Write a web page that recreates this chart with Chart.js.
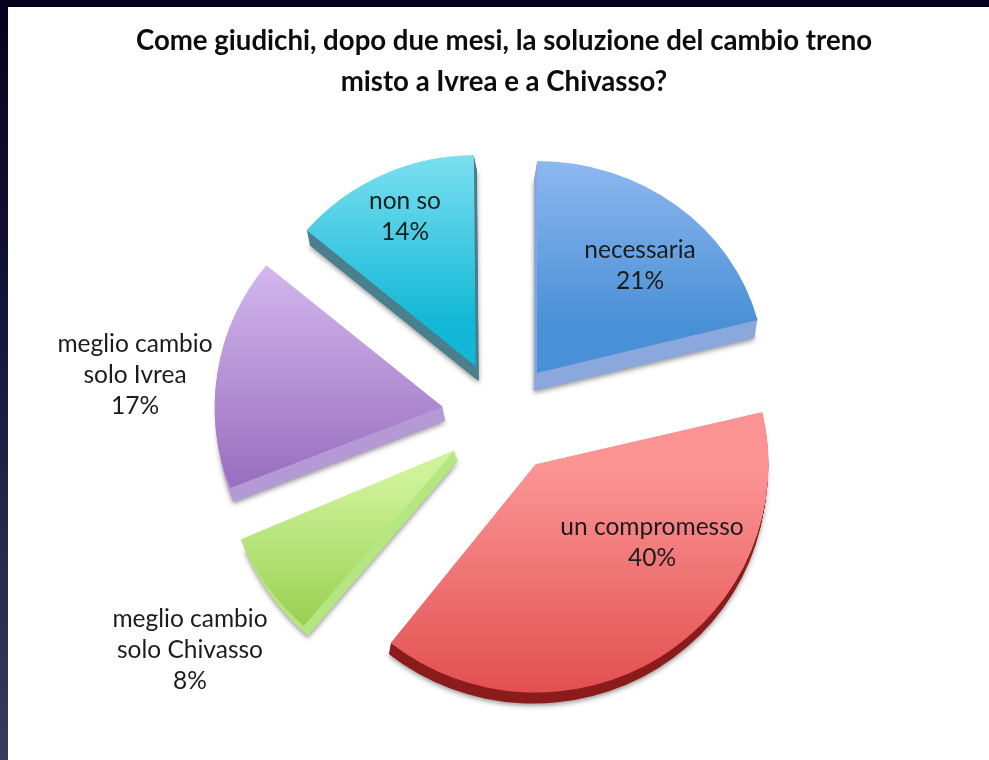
<!DOCTYPE html>
<html>
<head>
<meta charset="utf-8">
<title>Cambio treno misto</title>
<script src="https://cdn.jsdelivr.net/npm/chart.js@4/dist/chart.umd.min.js"></script>
<style>
  html, body { margin: 0; padding: 0; background: #fff; overflow: hidden; }
  #wrap { position: relative; width: 989px; height: 760px; }
  #top-bar { position: absolute; left: 0; top: 0; width: 989px; height: 7px; background: #04021c; }
  #left-bar { position: absolute; left: 0; top: 0; width: 8px; height: 760px;
    background: linear-gradient(#04021c 0%, #14143a 40%, #3a3a5e 100%); }
  canvas { position: absolute; left: 0; top: 0; }
</style>
</head>
<body>
<div id="wrap">
  <div id="top-bar"></div>
  <div id="left-bar"></div>
  <canvas id="pie" width="989" height="760"></canvas>
</div>
<script>
// ── Data ───────────────────────────────────
var categories = ['necessaria', 'un compromesso', 'meglio cambio solo Chivasso', 'meglio cambio solo Ivrea', 'non so'];
var values = [21, 40, 8, 17, 14];
var titleLines = ['Come giudichi, dopo due mesi, la soluzione del cambio treno', 'misto a Ivrea e a Chivasso?'];

// ── Style ──────────────────────────────────
var explode = [260, 288, 208, 220, 200];   // chart.js moves a slice by offset/4
var radii = [228, 233, 232, 228, 221];
var squash = [0.93, 0.98, 1, 0.98, 0.955]; // tilt of the original, per slice
var nudgeY = [10, -11, 5, 1, -3];
var topColors = ['#9cc0f5', '#fb9393', '#cdf298', '#d4b8ee', '#92e8f6'];
var botColors = ['#4a90d6', '#dc3e3e', '#8cc63f', '#9a70c0', '#12b8d6'];
var gradTop = [158, 412, 450, 268, 152];
var gradBot = [372, 695, 635, 490, 365];
var sideColors = ['#8ba8dc', '#8c1c1c', '#b4e682', '#b59ad6', '#4a7f8e'];
var sideDepth = [18, 11, 10, 14, 15];
var sideShift = [-3, -2, 4, 3, 3];
var pieShiftX = -7;     // title sits right of the pie centre

var labelLines = [['necessaria', '21%'], ['un compromesso', '40%'], ['meglio cambio', 'solo Chivasso', '8%'], ['meglio cambio', 'solo Ivrea', '17%'], ['non so', '14%']];
var labelPos = [[640, 250], [652, 527], [190, 619], [135, 344], [405, 201]];
var labelLine = 31;

// ── Helpers ────────────────────────────────
function sliceFill(ctx) {
  var i = ctx.dataIndex;
  var g = ctx.chart.ctx.createLinearGradient(0, gradTop[i], 0, gradBot[i]);
  g.addColorStop(0, topColors[i]);
  g.addColorStop(1, botColors[i]);
  return g;
}

// squash a slice vertically around its own tip
function applySquash(c, arc, i) {
  var mid = (arc.startAngle + arc.endAngle) / 2;
  var tipY = arc.y + Math.sin(mid) * explode[i] / 4;
  c.translate(0, tipY);
  c.scale(1, squash[i]);
  c.translate(0, -tipY);
}

// chart.js grows an offset arc by offset * (1 - sin(circumference)), take that back out
var slicePlugin = {
  id: 'sliceShape',
  afterDatasetsUpdate: function(chart) {
    chart.getDatasetMeta(0).data.forEach(function(arc, i) {
      var fix = 1 - Math.sin(Math.min(Math.PI, arc.circumference));
      arc.outerRadius = radii[i] - explode[i] / 4 * fix;
      arc.x += pieShiftX;
      arc.y += nudgeY[i];
      arc.draw = function(c) {
        c.save();
        applySquash(c, arc, i);
        Object.getPrototypeOf(arc).draw.call(arc, c);
        c.restore();
      };
    });
  }
};

// side wall: the same library arc repeated downwards in a flat colour
var sidePlugin = {
  id: 'sides',
  beforeDatasetsDraw: function(chart) {
    var c = chart.ctx;
    chart.getDatasetMeta(0).data.forEach(function(arc, i) {
      var saved = arc.options;
      arc.options = {
        backgroundColor: sideColors[i], borderWidth: 0, borderRadius: 0,
        offset: explode[i], spacing: 0, circular: true, borderAlign: 'center'
      };
      for (var d = sideDepth[i]; d >= 1; d--) {
        c.save();
        if (d === sideDepth[i]) {
          c.shadowColor = 'rgba(60,60,60,0.55)';
          c.shadowBlur = 5;
          c.shadowOffsetY = 2;
        }
        c.translate(sideShift[i] * d / sideDepth[i], d);
        applySquash(c, arc, i);
        Object.getPrototypeOf(arc).draw.call(arc, c);
        c.restore();
      }
      arc.options = saved;
    });
  }
};

var labelPlugin = {
  id: 'sliceLabels',
  afterDatasetsDraw: function(chart) {
    var c = chart.ctx;
    c.save();
    c.font = '24.5px Lato';
    c.fillStyle = '#1c1c1c';
    c.textAlign = 'center';
    c.textBaseline = 'middle';
    labelLines.forEach(function(lines, i) {
      lines.forEach(function(t, j) {
        c.fillText(t, labelPos[i][0], labelPos[i][1] + j * labelLine);
      });
    });
    c.restore();
  }
};

// ── Chart ──────────────────────────────────
new Chart(document.getElementById('pie'), {
  type: 'pie',
  data: {
    labels: categories,
    datasets: [{
      data: values,
      backgroundColor: sliceFill,
      borderWidth: 0,
      offset: explode,
      clip: false
    }]
  },
  options: {
    responsive: false,
    animation: false,
    radius: 229,
    layout: { padding: { left: 19, top: 0, bottom: 34 } },
    plugins: {
      legend: { display: false },
      tooltip: { enabled: false },
      title: {
        display: true,
        text: titleLines,
        color: '#0c0c0c',
        font: { family: 'Lato', size: 27.6, weight: 'bold', lineHeight: 1.5 },
        padding: { top: 20, bottom: 0 }
      }
    }
  },
  plugins: [slicePlugin, sidePlugin, labelPlugin]
});
</script>
</body>
</html>
